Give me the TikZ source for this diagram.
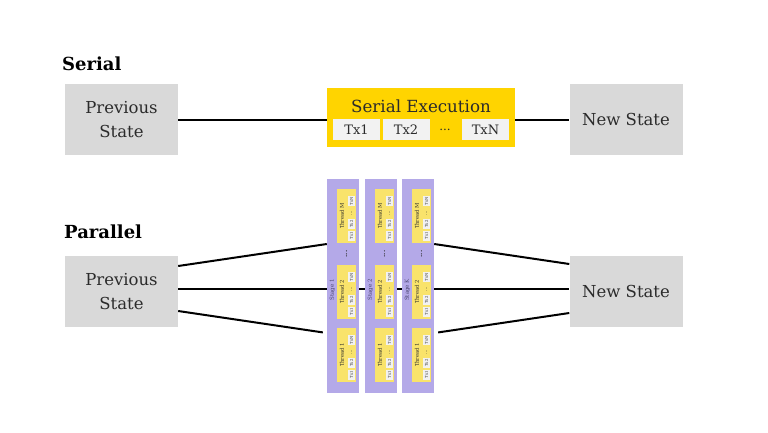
\documentclass[tikz,border=0pt]{standalone}
\usepackage{fontspec}
\setmainfont{DejaVu Serif}
\definecolor{stategray}{HTML}{D9D9D9}
\definecolor{execgold}{HTML}{FFD400}
\definecolor{txgray}{HTML}{F2F2F2}
\definecolor{stagepurple}{HTML}{B4A9E8}
\definecolor{threadyellow}{HTML}{F9E36B}
\definecolor{txtdark}{HTML}{2B2B2B}
\definecolor{stagetxt}{HTML}{4A4470}
\begin{document}
\begin{tikzpicture}[x=1pt,y=-1pt,
  statebox/.style={fill=stategray, minimum width=113pt, minimum height=71pt, inner sep=0pt, align=center, text=txtdark, font=\fontsize{16.5}{23.5}\selectfont},
  execbox/.style={fill=execgold, minimum width=188pt, minimum height=59pt, inner sep=0pt},
  txbox/.style={fill=txgray, minimum width=47pt, minimum height=21pt, inner sep=0pt, text=txtdark, font=\fontsize{13}{14}\selectfont},
  heading/.style={font=\fontsize{18}{20}\selectfont\bfseries, text=black, anchor=west, inner sep=0pt},
  stagebox/.style={fill=stagepurple, minimum width=32pt, minimum height=214pt, inner sep=0pt},
  stagelbl/.style={rotate=90, font=\fontsize{5.5}{6}\selectfont, text=stagetxt, inner sep=0pt},
  threadbox/.style={fill=threadyellow, minimum width=19pt, minimum height=54pt, inner sep=0pt},
  threadlbl/.style={rotate=90, font=\fontsize{5.2}{6}\selectfont, text=txtdark, inner sep=0pt},
  minitx/.style={fill=txgray, minimum width=10pt, minimum height=7pt, inner sep=0pt, rotate=90, font=\fontsize{3.8}{4}\selectfont, text=txtdark},
  minidots/.style={rotate=90, font=\fontsize{4.5}{4.5}\selectfont, text=txtdark, inner sep=0pt},
  conn/.style={line width=2pt, black}
]
\useasboundingbox (0,0) rectangle (768,432);

% ---------- Serial ----------
\node[heading] (serialhd) at (62,64) {Serial};
\node[statebox] (sprev) at (121.5,119.5) {Previous\\State};
\node[statebox] (snew) at (626,119.5) {New State};
\node[execbox] (sexec) at (421,117.5) {};
\node[text=txtdark, font=\fontsize{16.7}{18}\selectfont, inner sep=0pt] (stitle) at (421,106) {Serial Execution};
\node[txbox] (tx1) at (356.5,129.5) {Tx1};
\node[txbox] (tx2) at (406,129.5) {Tx2};
\node[text=txtdark, font=\fontsize{12}{14}\selectfont, inner sep=0pt] (txd) at (445,130) {...};
\node[txbox] (txn) at (485.5,129.5) {TxN};
\draw[conn] (sprev.east) -- (sprev.east -| sexec.west);
\draw[conn] (sexec.east |- snew.west) -- (snew.west);

% ---------- Parallel ----------
\node[heading] (parhd) at (64,232) {Parallel};
\node[statebox] (pprev) at (121.5,291.5) {Previous\\State};
\node[statebox] (pnew) at (626,291.5) {New State};

\foreach \sx/\sname/\slabel in {327/st1/Stage 1, 365/st2/Stage 2, 402/stk/Stage K}{
  \node[stagebox] (\sname) at (\sx+16,286) {};
  \node[stagelbl] (\sname lbl) at (\sx+5.5,290) {\slabel};
  \foreach \yc/\tname/\tlabel in {216/thm/Thread M, 292/thb/Thread 2, 355/tha/Thread 1}{
    \node[threadbox] (\sname\tname) at (\sx+19.5,\yc) {};
    \node[threadlbl] (\sname\tname lbl) at (\sx+15,\yc) {\tlabel};
    \node[minitx] (\sname\tname a) at (\sx+24.5,\yc+19.5) {Tx1};
    \node[minitx] (\sname\tname b) at (\sx+24.5,\yc+8) {Tx2};
    \node[minidots] (\sname\tname d) at (\sx+24.5,\yc-3) {...};
    \node[minitx] (\sname\tname n) at (\sx+24.5,\yc-15) {TxN};
  }
  \node[minidots, font=\fontsize{6.5}{6.5}\selectfont\bfseries] (\sname dots) at (\sx+19.5,254) {...};
}

\draw[conn] ([yshift=25.5pt]pprev.east) -- ([yshift=42pt]st1.west);
\draw[conn] ([yshift=2.5pt]pprev.east) -- ([yshift=-3pt]st1.west);
\draw[conn, shorten >=4pt] ([yshift=-19.5pt]pprev.east) -- ([yshift=-47pt]st1.west);
\draw[conn] ([yshift=-3pt]st1.east) -- ([yshift=-3pt]st2.west);
\draw[conn] ([yshift=-3pt]st2.east) -- ([yshift=-3pt]stk.west);
\draw[conn] ([yshift=42pt]stk.east) -- ([yshift=27.5pt]pnew.west);
\draw[conn] ([yshift=-3pt]stk.east) -- ([yshift=2.5pt]pnew.west);
\draw[conn, shorten <=4pt] ([yshift=-47pt]stk.east) -- ([yshift=-21.5pt]pnew.west);
\end{tikzpicture}
\end{document}
